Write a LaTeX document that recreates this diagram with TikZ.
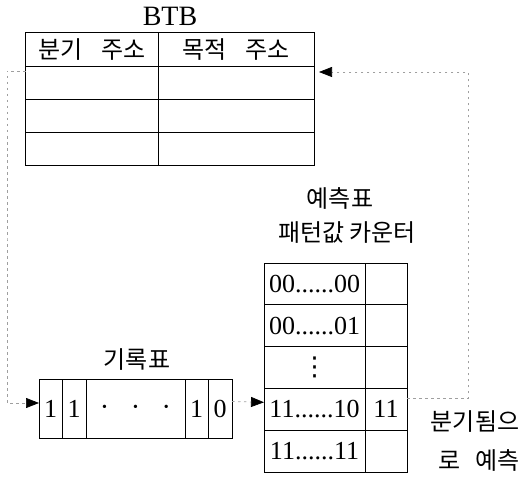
\documentclass[tikz,border=0pt]{standalone}
\usepackage{fontspec}
\setmainfont{Liberation Serif}
\newfontfamily\kr{Noto Sans CJK KR}
\newfontfamily\dvs{DejaVu Sans}
\usetikzlibrary{arrows.meta}
\begin{document}
\begin{tikzpicture}[x=1bp,y=-1bp,
  cell/.style={draw,line width=1bp,inner sep=0pt,outer sep=0pt,font=\fontsize{26bp}{28bp}\selectfont},
  krcell/.style={cell,font=\kr\fontsize{24bp}{26bp}\selectfont},
  krtext/.style={inner sep=0pt,font=\kr\fontsize{24bp}{28bp}\selectfont},
  dotline/.style={draw=gray!75,line width=0.7bp,dash pattern=on 2.5bp off 3.5bp},
  tip/.style={-{Triangle[length=13bp,width=10bp,color=black]}}]
\useasboundingbox (0,0) rectangle (530,479);

% BTB table
\node[font=\fontsize{28bp}{30bp}\selectfont,inner sep=0pt] (btb) at (170,16) {BTB};
\node[krcell,minimum width=132bp,minimum height=34bp] (bha) at (92,50) {분기\hspace{0.8em}주소};
\node[krcell,minimum width=156bp,minimum height=34bp] (bhb) at (236,50) {목적\hspace{0.8em}주소};
\node[cell,minimum width=132bp,minimum height=33bp] (b1a) at (92,83.5) {};
\node[cell,minimum width=156bp,minimum height=33bp] (b1b) at (236,83.5) {};
\node[cell,minimum width=132bp,minimum height=33bp] (b2a) at (92,116.5) {};
\node[cell,minimum width=156bp,minimum height=33bp] (b2b) at (236,116.5) {};
\node[cell,minimum width=132bp,minimum height=33bp] (b3a) at (92,149.5) {};
\node[cell,minimum width=156bp,minimum height=33bp] (b3b) at (236,149.5) {};

% prediction table
\node[krtext] (pl1) at (340,198) {예측표};
\node[krtext] (pl2) at (347,233) {패턴값 카운터};
\node[cell,minimum width=101bp,minimum height=41.8bp] (p1a) at (314.5,283.9) {00......00};
\node[cell,minimum width=42bp,minimum height=41.8bp] (p1b) at (386,283.9) {};
\node[cell,minimum width=101bp,minimum height=41.8bp] (p2a) at (314.5,325.7) {00......01};
\node[cell,minimum width=42bp,minimum height=41.8bp] (p2b) at (386,325.7) {};
\node[cell,minimum width=101bp,minimum height=41.8bp,font=\dvs\fontsize{26bp}{28bp}\selectfont] (p3a) at (314.5,367.5) {⋮};
\node[cell,minimum width=42bp,minimum height=41.8bp] (p3b) at (386,367.5) {};
\node[cell,minimum width=101bp,minimum height=41.8bp] (p4a) at (314.5,409.3) {11......10};
\node[cell,minimum width=42bp,minimum height=41.8bp] (p4b) at (386,409.3) {11};
\node[cell,minimum width=101bp,minimum height=41.8bp] (p5a) at (314.5,451.1) {11......11};
\node[cell,minimum width=42bp,minimum height=41.8bp] (p5b) at (386,451.1) {};

% history table
\node[krtext] (hl) at (137,360) {기록표};
\node[cell,minimum width=23bp,minimum height=59bp] (h1) at (50.5,408.5) {1};
\node[cell,minimum width=24bp,minimum height=59bp] (h2) at (74,408.5) {1};
\node[cell,minimum width=99bp,minimum height=59bp] (h3) at (135.5,408.5)
  {\fontsize{14bp}{15bp}\selectfont\textbullet\hspace{26bp}\textbullet\hspace{26bp}\textbullet\hspace{8bp}};
\node[cell,minimum width=23bp,minimum height=59bp] (h4) at (196.5,408.5) {1};
\node[cell,minimum width=24bp,minimum height=59bp] (h5) at (220,408.5) {0};

% side labels
\node[krtext] (tk1) at (475,422) {분기됨으};
\node[krtext] (tk2) at (479,460) {로\hspace{0.6em}예측};

% connectors
\coordinate (lx) at (7,240);
\coordinate (rx) at (468,240);
\draw[dotline,tip] ([yshift=-4bp]b1a.north west) -| (lx) |- ([yshift=5.5bp]h1.west);
\draw[dotline,tip] ([yshift=7bp]h5.east) -- ([yshift=7bp]p4a.west);
\draw[dotline,tip] ([yshift=11bp]p4b.east) -| (rx) |- ([xshift=5bp,yshift=-5bp]b1b.north east);
\end{tikzpicture}
\end{document}
